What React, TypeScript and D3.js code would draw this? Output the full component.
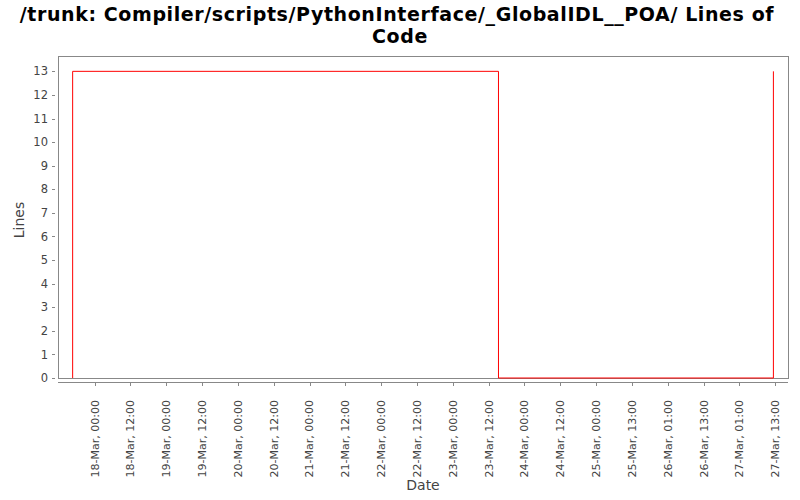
import React from "react";
import * as d3 from "d3";

const titleLines = ["/trunk: Compiler/scripts/PythonInterface/_GlobalIDL__POA/ Lines of", "Code"];
const yLabel = "Lines";
const xLabel = "Date";

// data points (local time treated as UTC), step-after
const pointTimes = ["2007-03-17T16:38", "2007-03-17T16:39", "2007-03-23T15:18", "2007-03-27T11:24"];
const pointValues = [0, 13, 0, 13];

// ticks every 12 hours from 18-Mar 00:00
const tickStart = "2007-03-18T00:00";
const tickLabels = [
  "18-Mar, 00:00", "18-Mar, 12:00", "19-Mar, 00:00", "19-Mar, 12:00", "20-Mar, 00:00",
  "20-Mar, 12:00", "21-Mar, 00:00", "21-Mar, 12:00", "22-Mar, 00:00", "22-Mar, 12:00",
  "23-Mar, 00:00", "23-Mar, 12:00", "24-Mar, 00:00", "24-Mar, 12:00", "25-Mar, 00:00",
  "25-Mar, 13:00", "26-Mar, 01:00", "26-Mar, 13:00", "27-Mar, 01:00", "27-Mar, 13:00",
];
const yTicks = [0, 1, 2, 3, 4, 5, 6, 7, 8, 9, 10, 11, 12, 13];

const parse = (s: string) => new Date(s + ":00Z");

export default function App() {
  const W = 800, H = 500;
  const left = 58, right = 788, top = 56, bottom = 378;
  const font = "DejaVu Sans, sans-serif";
  const textColor = "#444444";
  const gray = "#888888";

  const data = pointTimes.map((t, i) => ({ t: parse(t), v: pointValues[i] }));
  const [tmin, tmax] = d3.extent(data, (d) => d.t.getTime()) as [number, number];
  const span = tmax - tmin;
  const m = (span * 0.02) / 0.96;
  const x = d3.scaleUtc().domain([new Date(tmin - m), new Date(tmax + m)]).range([left, right]);
  const y = d3.scaleLinear().domain([0, 13 * 1.05]).range([bottom, top]);

  const line = d3
    .line<{ t: Date; v: number }>()
    .x((d) => x(d.t))
    .y((d) => y(d.v))
    .curve(d3.curveStepAfter);

  const t0 = parse(tickStart).getTime();
  const ticks = tickLabels.map((lab, i) => ({ lab, t: new Date(t0 + i * 12 * 3600 * 1000) }));

  return (
    <svg width={W} height={H} style={{ position: "absolute", left: 0, top: 0 }} fontFamily={font}>
      <rect x={0} y={0} width={W} height={H} fill="#ffffff" />
      <text x={397} y={21} textAnchor="middle" fontSize={19} letterSpacing={0.6} fontWeight="bold" fill="#000">
        {titleLines[0]}
      </text>
      <text x={400} y={43} textAnchor="middle" fontSize={19} letterSpacing={0.6} fontWeight="bold" fill="#000">
        {titleLines[1]}
      </text>

      <rect x={left} y={top} width={right - left} height={bottom - top} fill="#ffffff" stroke={gray} strokeWidth={1} shapeRendering="crispEdges" />

      {yTicks.map((v) => (
        <g key={v}>
          <line x1={52} x2={55} y1={Math.round(y(v)) + 0.5} y2={Math.round(y(v)) + 0.5} stroke={gray} />
          <text x={48} y={y(v)} dy="0.36em" textAnchor="end" fontSize={11.5} fill={textColor}>
            {v}
          </text>
        </g>
      ))}
      <text transform={`translate(24,220) rotate(-90)`} textAnchor="middle" fontSize={14} fill={textColor}>
        {yLabel}
      </text>

      <line x1={left} x2={right} y1={382.5} y2={382.5} stroke={gray} />
      {ticks.map((tk) => {
        const px = Math.round(x(tk.t)) + 0.5;
        return (
          <g key={tk.lab}>
            <line x1={px} x2={px} y1={382.5} y2={386} stroke={gray} />
            <text
              transform={`translate(${x(tk.t)},400) rotate(-90)`}
              dy="0.36em"
              textAnchor="end"
              fontSize={11}
              fill={textColor}
            >
              {tk.lab}
            </text>
          </g>
        );
      })}
      <text x={423} y={490} textAnchor="middle" fontSize={14} fill={textColor}>
        {xLabel}
      </text>

      <path d={line(data) || ""} fill="none" stroke="#ff0000" strokeWidth={1} />
    </svg>
  );
}
